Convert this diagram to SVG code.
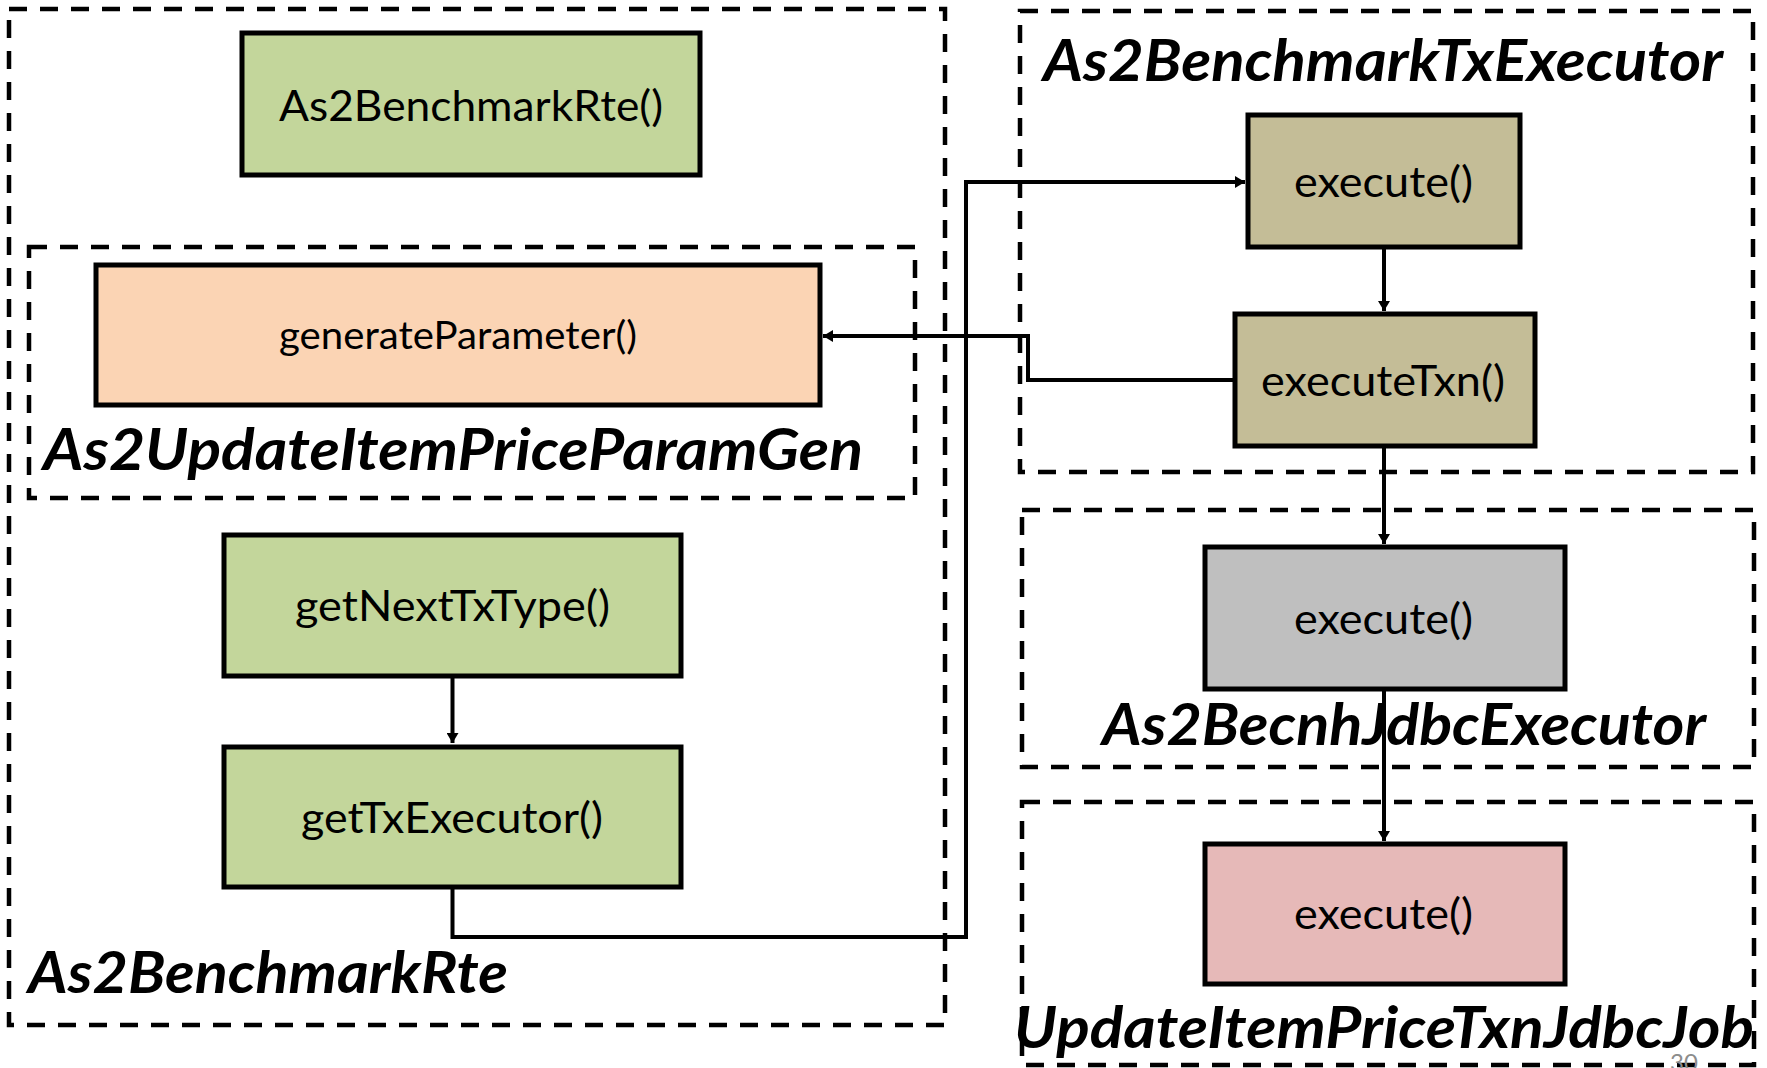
<svg xmlns="http://www.w3.org/2000/svg" width="1767" height="1068" viewBox="0 0 1767 1068">
  <style>
    .frame { fill: none; stroke: #000; stroke-width: 4.5; stroke-dasharray: 18 13; }
    .box { stroke: #000; stroke-width: 5; }
    .green { fill: #C3D69B; }
    .peach { fill: #FBD4B4; }
    .tan { fill: #C4BD97; }
    .grey { fill: #BFBFBF; }
    .pink { fill: #E6B9B8; }
    .method { font-family: Lato, "Liberation Sans", sans-serif; font-size: 43px; fill: #000; }
    .method.small { font-size: 38px; }
    .title { font-family: Lato, "Liberation Sans", sans-serif; font-size: 58px; font-weight: bold; font-style: italic; fill: #000; }
    .page { font-family: Lato, "Liberation Sans", sans-serif; font-size: 24px; fill: #8C8C8C; }
    .link { fill: none; stroke: #000; stroke-width: 4; marker-end: url(#head); }
  </style>
  <defs>
    <marker id="head" viewBox="0 0 10 12" refX="10" refY="6" markerWidth="10" markerHeight="12" markerUnits="userSpaceOnUse" orient="auto">
      <path d="M0,0 L10,6 L0,12 Z" fill="#000"/>
    </marker>
  </defs>

  <rect width="1767" height="1068" fill="#fff"/>

  <!-- As2BenchmarkRte class -->
  <g id="as2-benchmark-rte">
    <rect class="frame" x="9" y="9" width="936" height="1016"/>
    <text class="title" x="28" y="993" textLength="480" lengthAdjust="spacingAndGlyphs">As2BenchmarkRte</text>
  </g>
  <g id="ctor-node">
    <rect class="box green" x="242" y="33" width="458" height="142"/>
    <text class="method" x="279" y="121" textLength="384" lengthAdjust="spacingAndGlyphs">As2BenchmarkRte()</text>
  </g>

  <!-- As2UpdateItemPriceParamGen class -->
  <g id="param-gen">
    <rect class="frame" x="29" y="247" width="886" height="251"/>
    <text class="title" x="43" y="470" textLength="820" lengthAdjust="spacingAndGlyphs">As2UpdateItemPriceParamGen</text>
  </g>
  <g id="generate-parameter">
    <rect class="box peach" x="96" y="265" width="724" height="140"/>
    <text class="method small" x="279" y="349" textLength="358" lengthAdjust="spacingAndGlyphs">generateParameter()</text>
  </g>

  <g id="get-next-tx-type">
    <rect class="box green" x="224" y="535" width="457" height="141"/>
    <text class="method" x="295" y="621" textLength="315" lengthAdjust="spacingAndGlyphs">getNextTxType()</text>
  </g>
  <g id="get-tx-executor">
    <rect class="box green" x="224" y="747" width="457" height="140"/>
    <text class="method" x="301" y="833" textLength="302" lengthAdjust="spacingAndGlyphs">getTxExecutor()</text>
  </g>

  <!-- As2BenchmarkTxExecutor class -->
  <g id="tx-executor">
    <rect class="frame" x="1020" y="11" width="733" height="461"/>
    <text class="title" x="1043" y="81" textLength="680" lengthAdjust="spacingAndGlyphs">As2BenchmarkTxExecutor</text>
  </g>
  <g id="tx-execute">
    <rect class="box tan" x="1248" y="115" width="272" height="132"/>
    <text class="method" x="1294" y="197" textLength="179" lengthAdjust="spacingAndGlyphs">execute()</text>
  </g>
  <g id="tx-execute-txn">
    <rect class="box tan" x="1235" y="314" width="300" height="132"/>
    <text class="method" x="1261" y="396" textLength="244" lengthAdjust="spacingAndGlyphs">executeTxn()</text>
  </g>

  <!-- As2BecnhJdbcExecutor class -->
  <g id="jdbc-executor">
    <rect class="frame" x="1022" y="510" width="732" height="257"/>
    <text class="title" x="1102" y="745" textLength="604" lengthAdjust="spacingAndGlyphs">As2BecnhJdbcExecutor</text>
  </g>
  <g id="jdbc-execute">
    <rect class="box grey" x="1205" y="547" width="360" height="142"/>
    <text class="method" x="1294" y="634" textLength="179" lengthAdjust="spacingAndGlyphs">execute()</text>
  </g>

  <!-- UpdateItemPriceTxnJdbcJob class -->
  <g id="jdbc-job">
    <rect class="frame" x="1022" y="802" width="732" height="263"/>
    <text class="title" x="1014" y="1048" textLength="740" lengthAdjust="spacingAndGlyphs">UpdateItemPriceTxnJdbcJob</text>
  </g>
  <g id="job-execute">
    <rect class="box pink" x="1205" y="844" width="360" height="140"/>
    <text class="method" x="1294" y="929" textLength="179" lengthAdjust="spacingAndGlyphs">execute()</text>
  </g>

  <text class="page" x="1670" y="1071">30</text>

  <!-- call flow -->
  <g id="connectors">
    <path class="link" d="M452.5,678 V743"/>
    <path class="link" d="M452.5,889 V937 H966 V182 H1245"/>
    <path class="link" d="M1384,249 V311"/>
    <path class="link" d="M1233,380 H1028 V336 H823"/>
    <path class="link" d="M1384,448 V544"/>
    <path class="link" d="M1384,691 V841"/>
  </g>
</svg>
